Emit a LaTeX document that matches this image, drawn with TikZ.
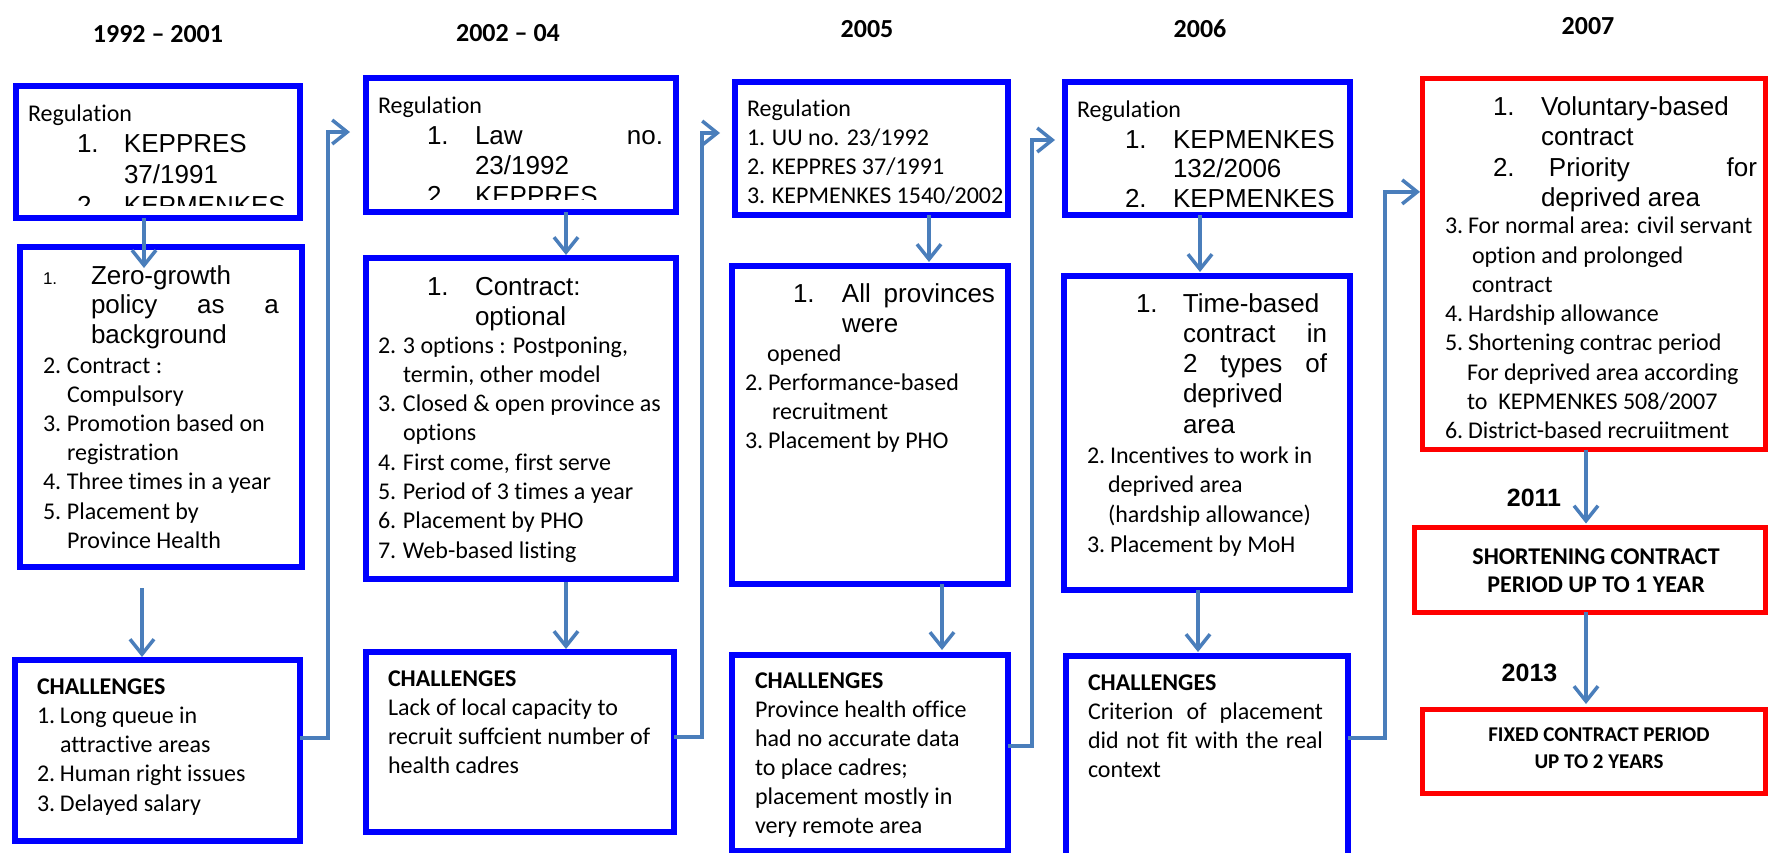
\documentclass[tikz,border=0pt]{standalone}
\usepackage{fontspec}
\setmainfont{Carlito}[Ligatures={TeX,NoCommon}]
\newfontfamily\arialf{Liberation Sans}
\usetikzlibrary{arrows.meta,calc}
\definecolor{boxblue}{RGB}{0,0,255}
\definecolor{connblue}{RGB}{74,126,187}
\newcommand\fcal{\fontsize{24}{29.2}\selectfont}
\newcommand\fari{\arialf\fontsize{26}{30}\selectfont}
\newcommand\ib[2]{\makebox[#1][l]{#2}}
\newcommand\jb[2]{\leavevmode\hbox to #1{#2}}
\tikzset{
 bbox/.style={draw=boxblue,line width=6pt,inner sep=0pt,outer sep=0pt,fill=white},
 rbox/.style={draw=red,line width=5pt,inner sep=0pt,outer sep=0pt,fill=white},
 conn/.style={draw=connblue,line width=3.5pt,-{Straight Barb[length=15pt,width=24pt,line width=3.5pt]}},
 ctext/.style={anchor=base west,inner sep=0pt,outer sep=0pt,text width=340pt,align=flush left,font=\fcal},
 atext/.style={anchor=base west,inner sep=0pt,outer sep=0pt,text width=340pt,align=flush left,font=\fari},
 mtext/.style={anchor=base,inner sep=0pt,outer sep=0pt,text width=340pt,align=flush center},
 year/.style={anchor=base,inner sep=0pt,font=\fontsize{26}{30}\selectfont\bfseries},
}
\begin{document}
\begin{tikzpicture}[x=1pt,y=-1pt]
\useasboundingbox (0,0) rectangle (1769,852);
\fill[white] (0,0) rectangle (1769,852);

% year labels
\node[year] (y1) at (158,42) {1992 – 2001};
\node[year] (y2) at (508,41) {2002 – 04};
\node[year] (y3) at (867,37) {2005};
\node[year] (y4) at (1200,37) {2006};
\node[year] (y5) at (1588,34) {2007};

% ---------- column 1 ----------
\node[bbox,minimum width=284,minimum height=132] (A1) at (158,152) {};
\node[bbox,minimum width=282,minimum height=320] (A2) at (161,407) {};
\node[bbox,minimum width=285,minimum height=181] (A3) at (157.5,750.5) {};
\node[ctext] (A1r) at (28,121) {Regulation};
\begin{scope}
\clip (19,89) rectangle (297,205);
\node[atext,font=\arialf\fontsize{26}{31}\selectfont] (A1l) at (77,152) {\ib{47pt}{1.}KEPPRES\\ \hspace*{47pt}37/1991\\ \ib{47pt}{2.}KEPMENKES};
\end{scope}
\node[atext,font=\arialf\fontsize{26}{29.5}\selectfont] (A2a) at (43,284) {\ib{48pt}{\fontsize{17}{17}\selectfont 1.}Zero-growth\\ \hspace*{48pt}\jb{188pt}{policy\hfill as\hfill a}\\ \hspace*{48pt}background};
\node[ctext] (A2b) at (43,373) {\ib{24pt}{2.}Contract :\\ \hspace*{24pt}Compulsory\\ \ib{24pt}{3.}Promotion based on\\ \hspace*{24pt}registration\\ \ib{24pt}{4.}Three times in a year\\ \ib{24pt}{5.}Placement by\\ \hspace*{24pt}Province Health};
\node[ctext,font=\fontsize{24}{29.25}\selectfont] (A3t) at (37,694) {\textbf{CHALLENGES}\\ \ib{23pt}{1.}Long queue in\\ \hspace*{23pt}attractive areas\\ \ib{23pt}{2.}Human right issues\\ \ib{23pt}{3.}Delayed salary};

% ---------- column 2 ----------
\node[bbox,minimum width=310,minimum height=134] (B1) at (521,145) {};
\node[bbox,minimum width=310,minimum height=321] (B2) at (521,418.5) {};
\node[bbox,minimum width=308,minimum height=180] (B3) at (520,742) {};
\node[ctext] (B1r) at (378,113) {Regulation};
\begin{scope}
\clip (369,81) rectangle (673,199);
\node[atext] (B1l) at (427,144) {\ib{48pt}{1.}\jb{188pt}{Law\hfill no.}\\ \hspace*{48pt}23/1992\\ \ib{48pt}{2.}KEPPRES};
\end{scope}
\node[atext] (B2a) at (427,295) {\ib{48pt}{1.}Contract:\\ \hspace*{48pt}optional};
\node[ctext,font=\fontsize{24}{29.3}\selectfont] (B2b) at (378,353) {\ib{25pt}{2.}3 options : Postponing,\\ \hspace*{25pt}termin, other model\\ \ib{25pt}{3.}Closed \& open province as\\ \hspace*{25pt}options\\ \ib{25pt}{4.}First come, first serve\\ \ib{25pt}{5.}Period of 3 times a year\\ \ib{25pt}{6.}Placement by PHO\\ \ib{25pt}{7.}Web-based listing};
\node[ctext,font=\fontsize{24}{29.3}\selectfont] (B3t) at (388,686) {\textbf{CHALLENGES}\\ Lack of local capacity to\\ recruit suffcient number of\\ health cadres};

% ---------- column 3 ----------
\node[bbox,minimum width=273,minimum height=133] (C1) at (871.5,148.5) {};
\node[bbox,minimum width=276,minimum height=318] (C2) at (870,425) {};
\node[bbox,minimum width=276,minimum height=196] (C3) at (870,753) {};
\begin{scope}
\clip (738,85) rectangle (1005,204);
\node[ctext,font=\fontsize{24}{29}\selectfont] (C1l) at (747,116) {Regulation\\ \ib{25pt}{1.}UU no. 23/1992\\ \ib{25pt}{2.}KEPPRES 37/1991\\ \ib{25pt}{3.}KEPMENKES 1540/2002};
\end{scope}
\node[atext] (C2a) at (793,302) {\ib{49pt}{1.}\jb{153pt}{All\hfill provinces}\\ \hspace*{49pt}were};
\node[ctext,font=\fontsize{24}{29}\selectfont] (C2b) at (745,361) {\hspace*{22pt}opened\\ \ib{23pt}{2.}Performance-based\\ \hspace*{27pt}recruitment\\ \ib{23pt}{3.}Placement by PHO};
\node[ctext,font=\fontsize{24}{29}\selectfont] (C3t) at (755,688) {\textbf{CHALLENGES}\\ Province health office\\ had no accurate data\\ to place cadres;\\ placement mostly in\\ very remote area};

% ---------- column 4 ----------
\node[bbox,minimum width=285,minimum height=133] (D1) at (1207.5,148.5) {};
\node[bbox,minimum width=286,minimum height=314] (D2) at (1207,433) {};
\node[bbox,minimum width=282,minimum height=202] (D3) at (1207,757) {};
\node[ctext] (D1r) at (1077,117) {Regulation};
\begin{scope}
\clip (1068,85) rectangle (1347,212);
\node[atext,font=\arialf\fontsize{26}{29.5}\selectfont] (D1l) at (1125,148) {\ib{48pt}{1.}KEPMENKES\\ \hspace*{48pt}132/2006\\ \ib{48pt}{2.}KEPMENKES};
\end{scope}
\node[atext,font=\arialf\fontsize{26}{30.25}\selectfont] (D2a) at (1136,312) {\ib{47pt}{1.}Time-based\\ \hspace*{47pt}\jb{144pt}{contract\hfill in}\\ \hspace*{47pt}\jb{144pt}{2\hfill types\hfill of}\\ \hspace*{47pt}deprived\\ \hspace*{47pt}area};
\node[ctext,font=\fontsize{24}{29.7}\selectfont] (D2b) at (1087,463) {\ib{23pt}{2.}Incentives to work in\\ \hspace*{21pt}deprived area\\ \hspace*{21pt}(hardship allowance)\\ \ib{23pt}{3.}Placement by MoH};
\node[ctext,font=\fontsize{24}{29}\selectfont] (D3t) at (1088,690) {\textbf{CHALLENGES}\\ \jb{235pt}{Criterion\hfill of\hfill placement}\\ \jb{235pt}{did\hfill not\hfill fit\hfill with\hfill the\hfill real}\\ context};

% ---------- column 5 ----------
\node[rbox,minimum width=342.5,minimum height=371.2] (E1) at (1593.75,263.9) {};
\node[rbox,minimum width=350.5,minimum height=84.5] (E2) at (1589.75,569.75) {};
\node[rbox,minimum width=342.5,minimum height=84.5] (E3) at (1593.75,751.25) {};
\node[atext,font=\arialf\fontsize{26}{30.5}\selectfont] (E1a) at (1493,115.3) {\ib{48pt}{1.}Voluntary-based\\ \hspace*{48pt}contract\\ \ib{56pt}{2.}\jb{208pt}{Priority\hfill for}\\ \hspace*{48pt}deprived area};
\node[ctext,font=\fontsize{24}{29.25}\selectfont] (E1b) at (1445,233.9) {\ib{23pt}{3.}For normal area: civil servant\\ \hspace*{27pt}option and prolonged\\ \hspace*{27pt}contract\\ \ib{23pt}{4.}Hardship allowance\\ \ib{23pt}{5.}Shortening contrac period\\ \hspace*{22pt}For deprived area according\\ \hspace*{22pt}to\ \ KEPMENKES 508/2007\\ \ib{23pt}{6.}District-based recruiitment};
\node[year,font=\arialf\fontsize{25}{30}\selectfont\bfseries] (y6) at (1534,506) {2011};
\node[year,font=\arialf\fontsize{25}{30}\selectfont\bfseries] (y7) at (1529.5,681) {2013};
\node[mtext,font=\fontsize{24}{28.2}\selectfont\bfseries] (E2t) at (1596,564.7) {SHORTENING CONTRACT\\ PERIOD UP TO 1 YEAR};
\node[mtext,font=\fontsize{21}{27.1}\selectfont\bfseries] (E3t) at (1599,741.7) {FIXED CONTRACT PERIOD\\ UP TO 2 YEARS};

% ---------- connectors ----------
\draw[conn] ($(A1.south)+(-14,0)$) -- ($(A2.north)+(-17,21)$);
\draw[conn] ($(A2.south)+(-19,21)$) -- ($(A3.north)+(-15.5,-3)$);
\draw[conn] ($(A3.east)+(0,-12.5)$) -| ($(B1.west)+(-38,-13)$) -- ($(B1.west)+(-16,-13)$);
\draw[conn] ($(B1.south)+(45,0)$) -- ($(B2.north)+(45,-3)$);
\draw[conn] ($(B2.south)+(45,3)$) -- ($(B3.north)+(46,-3)$);
\draw[conn] ($(B3.east)+(0,-5)$) -| ($(C1.west)+(-33,-15.5)$) -- ($(C1.west)+(-15,-15.5)$);
\draw[conn] ($(C1.south)+(57.5,0)$) -- ($(C2.north)+(59,-4)$);
\draw[conn] ($(C2.south)+(72,0)$) -- ($(C3.north)+(72,-5)$);
\draw[conn] ($(C3.east)+(0,-7)$) -| ($(D1.west)+(-33,-8.5)$) -- ($(D1.west)+(-10,-8.5)$);
\draw[conn] ($(D1.south)+(-7.5,0)$) -- ($(D2.north)+(-7,-4)$);
\draw[conn] ($(D2.south)+(-9,0)$) -- ($(D3.north)+(-9,-4)$);
\draw[conn] ($(D3.east)+(0,-19)$) -| ($(E1.west)+(-37.5,-72)$) -- ($(E1.west)+(-2.5,-72)$);
\draw[conn] ($(E1.south)+(-7.75,0)$) -- ($(E2.north)+(-3.75,-4)$);
\draw[conn] ($(E2.south)+(-3.75,0)$) -- ($(E3.north)+(-7.75,-5)$);
\end{tikzpicture}
\end{document}
